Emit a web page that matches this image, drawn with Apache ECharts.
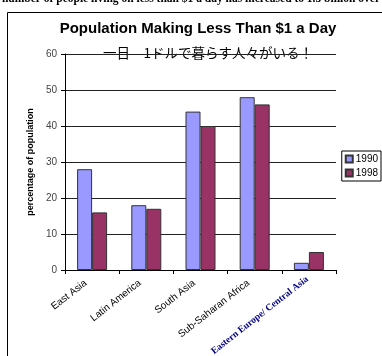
<!DOCTYPE html>
<html><head><meta charset="utf-8">
<script src="https://cdn.jsdelivr.net/npm/echarts@6/dist/echarts.min.js"></script>
<style>html,body{margin:0;padding:0;background:#fff}#c{width:382px;height:356px}</style>
</head><body><div id="c"></div>
<script>
const categories = ['East Asia','Latin America','South Asia','Sub-Saharan Africa','Eastern Europe/ Central Asia'];
const series1990 = [28, 18, 44, 48, 2];
const series1998 = [16, 17, 40, 46, 5];
const seriesNames = ['1990','1998'];
const yTicks = [0, 60, 10];

const chart = echarts.init(document.getElementById('c'));
chart.setOption({
  animation: false,
  backgroundColor: '#fff',
  graphic: [
    {type:'text', x:191, y:-7, style:{text:'number of people living on less than $1 a day has increased to 1.3 billion over', font:'bold 11.5px "Liberation Serif"', fill:'#000', align:'center'}},
    {type:'line', shape:{x1:7.5,y1:12.5,x2:382,y2:12.5}, style:{stroke:'#000',lineWidth:1}},
    {type:'line', shape:{x1:7.5,y1:12.5,x2:7.5,y2:356}, style:{stroke:'#000',lineWidth:1}},
    {type:'text', x:198, y:21, style:{text:'Population Making Less Than $1 a Day', font:'bold 15px "Liberation Sans"', fill:'#000', align:'center'}},
    {type:'text', x:208, y:46, style:{text:'一日　1ドルで暮らす人々がいる！', font:'13.5px "Noto Sans CJK JP"', fill:'#000', align:'center'}}
  ],
  legend: {
    orient:'vertical', right:1, top:151,
    itemWidth:7, itemHeight:7, itemGap:4,
    padding:[3,3,3,3],
    borderColor:'#000', borderWidth:1,
    textStyle:{fontSize:10, fontFamily:'Liberation Sans', color:'#000', padding:[0,0,0,-2]},
    data: seriesNames.map(n=>({name:n, icon:'rect'}))
  },
  grid: {left:65, right:46, top:54, bottom:86, outerBoundsMode:'none', containLabel:false},
  xAxis: {
    type:'category', data:categories,
    axisLine:{lineStyle:{color:'#000'}},
    axisTick:{show:true, alignWithLabel:false, length:4, lineStyle:{color:'#000'}},
    axisLabel:{
      rotate:38, interval:0, margin:7,
      formatter:(v)=> v.indexOf('Eastern')===0 ? '{b|'+v+'}' : '{a|'+v+'}',
      rich:{
        a:{fontFamily:'Liberation Sans', fontSize:10, color:'#000', padding:[0,8,0,0]},
        b:{fontFamily:'Liberation Serif', fontWeight:'bold', fontSize:9.5, color:'#000080', padding:[0,2,0,0]}
      }
    }
  },
  yAxis: {
    type:'value', min:yTicks[0], max:yTicks[1], interval:yTicks[2],
    name:'percentage of population', nameLocation:'middle', nameGap:29, nameRotate:90,
    nameTextStyle:{fontSize:9, fontWeight:'bold', fontFamily:'Liberation Sans', color:'#000'},
    axisLine:{show:true, lineStyle:{color:'#000'}},
    axisTick:{show:true, length:4, lineStyle:{color:'#000'}},
    axisLabel:{fontSize:10, fontFamily:'Liberation Sans', color:'#444', margin:8},
    splitLine:{lineStyle:{color:'#222', width:1}}
  },
  series: [
    {name:seriesNames[0], type:'bar', data:series1990, barWidth:15, barGap:'0%',
     itemStyle:{color:'#9999FF', borderColor:'#333', borderWidth:1}},
    {name:seriesNames[1], type:'bar', data:series1998, barWidth:15,
     itemStyle:{color:'#993366', borderColor:'#333', borderWidth:1}}
  ]
});
</script></body></html>
